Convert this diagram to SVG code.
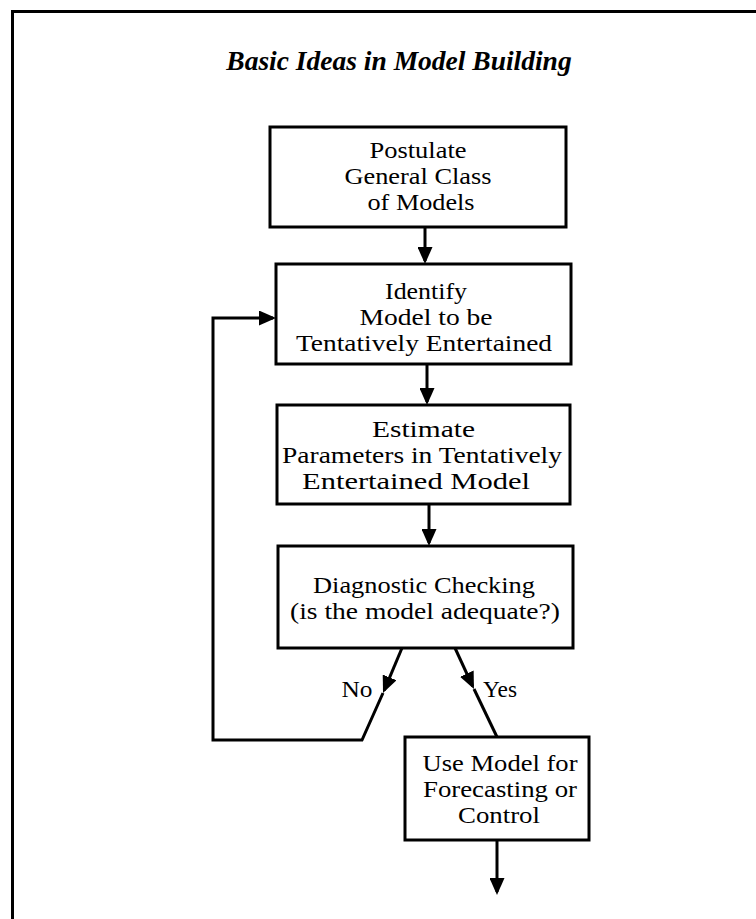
<svg xmlns="http://www.w3.org/2000/svg" width="756" height="919" viewBox="0 0 756 919">
<style>
.bg{fill:#ffffff}
.frame{fill:none;stroke:#000;stroke-width:3}
.box{fill:#fff;stroke:#000;stroke-width:3}
.t{font-family:"Liberation Serif","Times New Roman",serif;font-size:22.5px;fill:#000;text-anchor:middle}
.title{font-family:"Liberation Serif","Times New Roman",serif;font-size:27.5px;font-style:italic;font-weight:bold;fill:#000;text-anchor:middle}
.c{fill:none;stroke:#000;stroke-width:3;stroke-linejoin:miter}
</style>
<defs>
<marker id="ah" markerUnits="userSpaceOnUse" markerWidth="17" markerHeight="15" refX="14" refY="7.5" orient="auto">
<path d="M0,0 L17,7.5 L0,15 Z" fill="#000"/>
</marker>
</defs>
<rect class="bg" x="0" y="0" width="756" height="919"/>
<g id="frame">
<path class="frame" d="M12.5,919 V11.5 H756"/>
</g>
<g id="title">
<text class="title" x="399" y="70">Basic Ideas in Model Building</text>
</g>
<g id="connectors">
<path class="c" d="M425,227 V261" marker-end="url(#ah)"/>
<path class="c" d="M427,364 V402" marker-end="url(#ah)"/>
<path class="c" d="M429,504 V543" marker-end="url(#ah)"/>
<path class="c" d="M402,648 L384.2,690.3" marker-end="url(#ah)"/>
<path class="c" d="M383,693 L362,740 H213 V318 H273" marker-end="url(#ah)"/>
<path class="c" d="M455,648 L472.7,686.3" marker-end="url(#ah)"/>
<path class="c" d="M474,689 L497,737"/>
<path class="c" d="M497,840 V892" marker-end="url(#ah)"/>
<text class="t" x="357" y="697" textLength="31" lengthAdjust="spacingAndGlyphs">No</text>
<text class="t" x="500" y="697" textLength="34" lengthAdjust="spacingAndGlyphs">Yes</text>
</g>
<g id="postulate">
<rect class="box" x="270" y="127" width="296" height="100"/>
<text class="t" x="418" y="158" textLength="97" lengthAdjust="spacingAndGlyphs">Postulate</text>
<text class="t" x="418" y="184" textLength="147" lengthAdjust="spacingAndGlyphs">General Class</text>
<text class="t" x="421" y="210" textLength="107" lengthAdjust="spacingAndGlyphs">of Models</text>
</g>
<g id="identify">
<rect class="box" x="276" y="264" width="295" height="100"/>
<text class="t" x="426" y="299" textLength="82" lengthAdjust="spacingAndGlyphs">Identify</text>
<text class="t" x="426" y="325" textLength="133" lengthAdjust="spacingAndGlyphs">Model to be</text>
<text class="t" x="424" y="351" textLength="256" lengthAdjust="spacingAndGlyphs">Tentatively Entertained</text>
</g>
<g id="estimate">
<rect class="box" x="277" y="405" width="293" height="99"/>
<text class="t" x="423.5" y="437" textLength="103" lengthAdjust="spacingAndGlyphs">Estimate</text>
<text class="t" x="422" y="463" textLength="280" lengthAdjust="spacingAndGlyphs">Parameters in Tentatively</text>
<text class="t" x="416" y="489" textLength="228" lengthAdjust="spacingAndGlyphs">Entertained Model</text>
</g>
<g id="diagnostic">
<rect class="box" x="278" y="546" width="295" height="102"/>
<text class="t" x="424" y="593" textLength="222" lengthAdjust="spacingAndGlyphs">Diagnostic Checking</text>
<text class="t" x="425" y="619" textLength="270" lengthAdjust="spacingAndGlyphs">(is the model adequate?)</text>
</g>
<g id="use">
<rect class="box" x="405" y="737" width="184" height="103"/>
<text class="t" x="500" y="771" textLength="155" lengthAdjust="spacingAndGlyphs">Use Model for</text>
<text class="t" x="500" y="797" textLength="154" lengthAdjust="spacingAndGlyphs">Forecasting or</text>
<text class="t" x="499" y="823" textLength="82" lengthAdjust="spacingAndGlyphs">Control</text>
</g>
</svg>
